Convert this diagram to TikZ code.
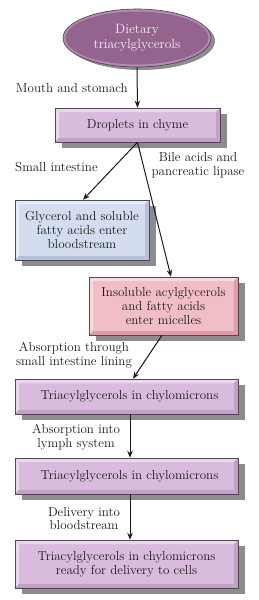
\documentclass[tikz,border=0pt]{standalone}
\usetikzlibrary{shapes.geometric,shadows,arrows.meta}
\definecolor{ellface}{HTML}{94648F}
\definecolor{ellrim}{HTML}{B88BB3}
\definecolor{lilface}{HTML}{D9BCDD}
\definecolor{lillight}{HTML}{EAD8EC}
\definecolor{lildark}{HTML}{C4A0C6}
\definecolor{bluface}{HTML}{D3DDEF}
\definecolor{blulight}{HTML}{E6ECF7}
\definecolor{bludark}{HTML}{B5C1DA}
\definecolor{pinface}{HTML}{F1BEC5}
\definecolor{pinlight}{HTML}{F7D8DC}
\definecolor{pindark}{HTML}{DE9DA7}
\definecolor{shad}{HTML}{8C8C8C}
\definecolor{txt}{HTML}{1A1A1A}
\tikzset{
  bevbox/.style args={#1/#2/#3}{rectangle, fill=#1, draw=black!70, line width=0.5pt,
    inner sep=0pt, align=center, text=txt, font=\fontsize{13}{14}\selectfont,
    drop shadow={shadow xshift=7pt, shadow yshift=-6pt, fill=shad, opacity=1},
    path picture={
      \fill[#2] (path picture bounding box.north west) -- (path picture bounding box.north east)
        -- ([xshift=-4pt,yshift=-4pt]path picture bounding box.north east)
        -- ([xshift=4pt,yshift=-4pt]path picture bounding box.north west) -- cycle;
      \fill[#2] (path picture bounding box.north west) -- (path picture bounding box.south west)
        -- ([xshift=4pt,yshift=4pt]path picture bounding box.south west)
        -- ([xshift=4pt,yshift=-4pt]path picture bounding box.north west) -- cycle;
      \fill[#3] (path picture bounding box.south west) -- (path picture bounding box.south east)
        -- ([xshift=-4pt,yshift=4pt]path picture bounding box.south east)
        -- ([xshift=4pt,yshift=4pt]path picture bounding box.south west) -- cycle;
      \fill[#3] (path picture bounding box.north east) -- (path picture bounding box.south east)
        -- ([xshift=-4pt,yshift=4pt]path picture bounding box.south east)
        -- ([xshift=-4pt,yshift=-4pt]path picture bounding box.north east) -- cycle;
    }},
  lbl/.style={align=center, text=txt, inner sep=0pt, font=\fontsize{13}{13.5}\selectfont},
  arr/.style={-{Stealth[length=7pt,width=5.5pt]}, line width=1pt, black!90},
}
\begin{document}
\begin{tikzpicture}[x=1pt,y=-1pt]
\useasboundingbox (0,0) rectangle (258,600);
% ellipse
\node[ellipse, minimum width=148pt, minimum height=58pt, fill=ellrim, draw=black!75, line width=0.6pt,
  drop shadow={shadow xshift=4pt, shadow yshift=-3pt, fill=shad, opacity=1},
  path picture={\fill[ellface] (path picture bounding box.center) ellipse (71.5pt and 26.5pt);}]
  (ell) at (137,38) {};
\node[align=center, text=white!92!ellface, font=\fontsize{13.5}{15}\selectfont] (elltext) at (ell.center) {Dietary\\triacylglycerols};
% boxes
\node[bevbox=lilface/lillight/lildark, minimum width=165pt, minimum height=34pt] (drop) at (137.5,125) {Droplets in chyme};
\node[bevbox=bluface/blulight/bludark, minimum width=134pt, minimum height=60pt] (gly) at (82,230) {Glycerol and soluble\\fatty acids enter\\bloodstream};
\node[bevbox=pinface/pinlight/pindark, minimum width=149pt, minimum height=58pt] (ins) at (163.5,306) {Insoluble acylglycerols\\and fatty acids\\enter micelles};
\node[bevbox=lilface/lillight/lildark, minimum width=223pt, minimum height=35pt] (tc1) at (126.5,396.5) {\hspace*{6pt}Triacylglycerols in chylomicrons};
\node[bevbox=lilface/lillight/lildark, minimum width=223pt, minimum height=36pt] (tc2) at (126.5,476) {\hspace*{6pt}Triacylglycerols in chylomicrons};
\node[bevbox=lilface/lillight/lildark, minimum width=223pt, minimum height=48pt] (tc3) at (126.5,564) {Triacylglycerols in chylomicrons\\ready for delivery to cells};
% arrows
\draw[arr] (ell.south) -- (drop.north);
\draw[arr] (drop.south) -- ([xshift=1pt]gly.north);
\draw[arr] (drop.south) -- ([xshift=7.5pt]ins.north);
\draw[arr] ([xshift=-1.5pt]ins.south) -- ([xshift=6.5pt]tc1.north);
\draw[arr] ([xshift=3.5pt]tc1.south) -- ([xshift=3.5pt]tc2.north);
\draw[arr] ([xshift=3.5pt]tc2.south) -- ([xshift=3.5pt]tc3.north);
% labels
\node[lbl, anchor=east] (l1) at (128,88) {Mouth and stomach};
\node[lbl, anchor=west] (l2) at (15,167) {Small intestine};
\node[lbl] (l3) at (198,165) {Bile acids and\\pancreatic lipase};
\node[lbl] (l4) at (74,355) {Absorption through\\small intestine lining};
\node[lbl] (l5) at (76,437) {Absorption into\\lymph system};
\node[lbl] (l6) at (84,518.5) {Delivery into\\bloodstream};
\end{tikzpicture}
\end{document}
